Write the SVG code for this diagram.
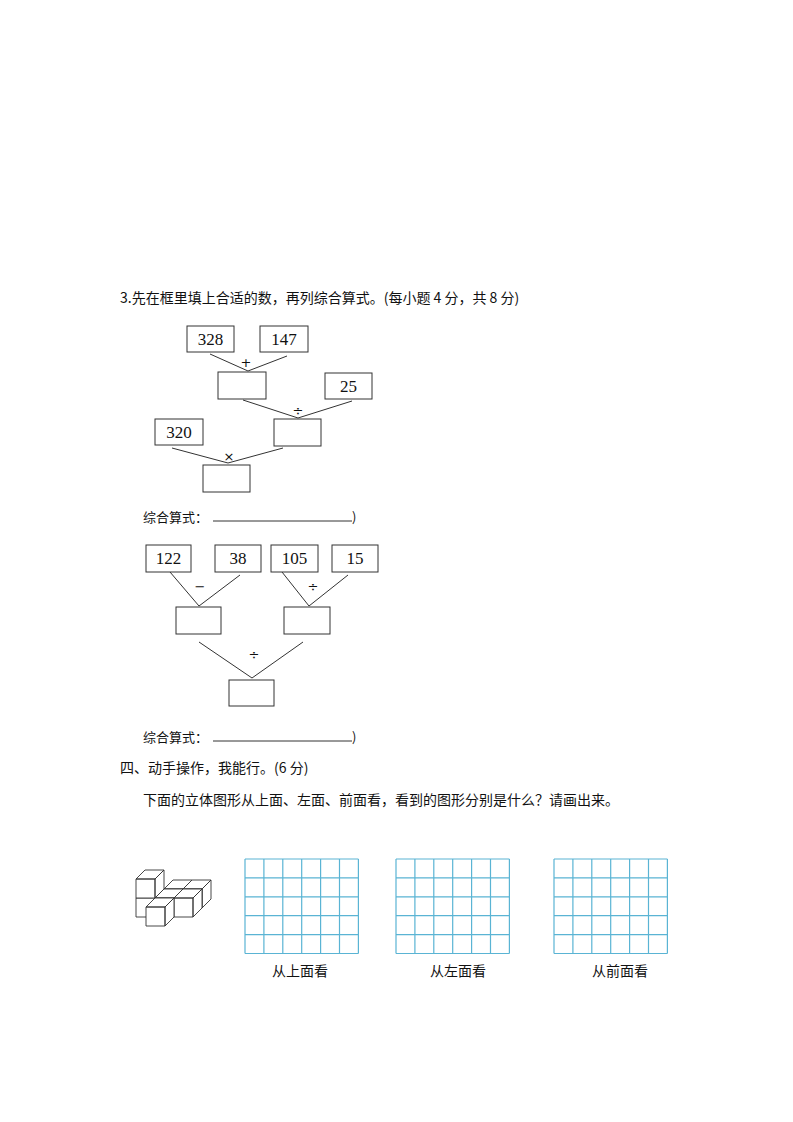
<svg xmlns="http://www.w3.org/2000/svg" width="793" height="1122" viewBox="0 0 793 1122">
<defs>
<style>
.b{fill:#fff;stroke:#333;stroke-width:1}
.l{stroke:#333;stroke-width:1;fill:none}
.n{font-family:"Liberation Serif",serif;font-size:17px;text-anchor:middle;fill:#111}
.o{font-family:"DejaVu Sans",sans-serif;font-size:13px;text-anchor:middle;fill:#111}
.t{font-family:"Noto Sans CJK SC","Liberation Sans",sans-serif;font-size:13px;fill:#111}
.g{stroke:#5ab4d4;stroke-width:1.2;fill:none}
.c{fill:#fff;stroke:#333;stroke-width:0.9;stroke-linejoin:round}
</style>
<path id="gridp" class="g" d="M0 0V94.5M18.9 0V94.5M37.8 0V94.5M56.7 0V94.5M75.6 0V94.5M94.5 0V94.5M113.4 0V94.5M0 0H113.4M0 18.9H113.4M0 37.8H113.4M0 56.7H113.4M0 75.6H113.4M0 94.5H113.4"/>
</defs>
<rect width="793" height="1122" fill="#fff"/>
<text class="t" x="120" y="303" style="font-size:14px">3.先在框里填上合适的数，再列综合算式。(每小题 4 分，共 8 分)</text>
<g id="connectors">
<path class="l" d="M210 354L248 371L287 356M243 400L298 418L352 401M172 448L228 463L283 448"/>
<path class="l" d="M170 572L199 606L240 575M282 572L309 606L348 575M199 642L252 678L303 642"/>
</g>
<g id="n328"><rect class="b" x="187" y="326" width="47" height="26"/><text class="n" x="210.5" y="345">328</text></g>
<g id="n147"><rect class="b" x="260" y="326" width="48" height="26"/><text class="n" x="284" y="345">147</text></g>
<text class="o" x="246" y="367">+</text>
<g id="s1"><rect class="b" x="218" y="372" width="48" height="27"/></g>
<g id="n25"><rect class="b" x="325" y="373" width="47" height="26"/><text class="n" x="348.5" y="392">25</text></g>
<text class="o" x="298" y="415">÷</text>
<g id="s2"><rect class="b" x="274" y="419" width="47" height="27"/></g>
<g id="n320"><rect class="b" x="155" y="419" width="48" height="26"/><text class="n" x="179" y="438">320</text></g>
<text class="o" x="229" y="461">×</text>
<g id="s3"><rect class="b" x="203" y="465" width="47" height="27"/></g>
<text class="t" x="143" y="522">综合算式：</text>
<path class="l" d="M213 521H352"/><text class="t" x="352" y="522">)</text>

<g id="n122"><rect class="b" x="146" y="545" width="45" height="27"/><text class="n" x="168.5" y="564">122</text></g>
<g id="n38"><rect class="b" x="215" y="545" width="46" height="27"/><text class="n" x="238" y="564">38</text></g>
<g id="n105"><rect class="b" x="271" y="545" width="47" height="27"/><text class="n" x="294.5" y="564">105</text></g>
<g id="n15"><rect class="b" x="332" y="545" width="46" height="27"/><text class="n" x="355" y="564">15</text></g>
<text class="o" x="200" y="591">−</text>
<text class="o" x="313" y="591">÷</text>
<g id="s4"><rect class="b" x="176" y="607" width="45" height="27"/></g>
<g id="s5"><rect class="b" x="284" y="607" width="46" height="27"/></g>
<text class="o" x="254" y="659">÷</text>
<g id="s6"><rect class="b" x="229" y="680" width="45" height="26"/></g>
<text class="t" x="143" y="742">综合算式：</text>
<path class="l" d="M213 741H352"/><text class="t" x="352" y="742">)</text>

<text class="t" x="120" y="773" style="font-size:14px">四、动手操作，我能行。(6 分)</text>
<text class="t" x="143" y="805" style="font-size:14px">下面的立体图形从上面、左面、前面看，看到的图形分别是什么？请画出来。</text>

<g id="cubes">
<path class="c" d="M164 889H183V908H164Z M164 889L173 880H192L183 889Z M183 889L192 880V899L183 908Z"/>
<path class="c" d="M183 889H202V908H183Z M183 889L192 880H211L202 889Z M202 889L211 880V899L202 908Z"/>
<path class="c" d="M136 898H155V917H136Z M155 898L164 889V908L155 917Z"/>
<path class="c" d="M136 879H155V898H136Z M136 879L145 870H164L155 879Z M155 879L164 870V889L155 898Z"/>
<path class="c" d="M155 898H174V917H155Z M155 898L164 889H183L174 898Z M174 898L183 889V908L174 917Z"/>
<path class="c" d="M174 898H193V917H174Z M174 898L183 889H202L193 898Z M193 898L202 889V908L193 917Z"/>
<path class="c" d="M146 907H165V926H146Z M146 907L155 898H174L165 907Z M165 907L174 898V917L165 926Z"/>
</g>

<g id="grid1"><use href="#gridp" x="245" y="859"/></g>
<g id="grid2"><use href="#gridp" x="396" y="859"/></g>
<g id="grid3"><use href="#gridp" x="554" y="859"/></g>
<text class="t" x="300" y="976" text-anchor="middle" style="font-size:14px">从上面看</text>
<text class="t" x="458" y="976" text-anchor="middle" style="font-size:14px">从左面看</text>
<text class="t" x="620" y="976" text-anchor="middle" style="font-size:14px">从前面看</text>
</svg>
